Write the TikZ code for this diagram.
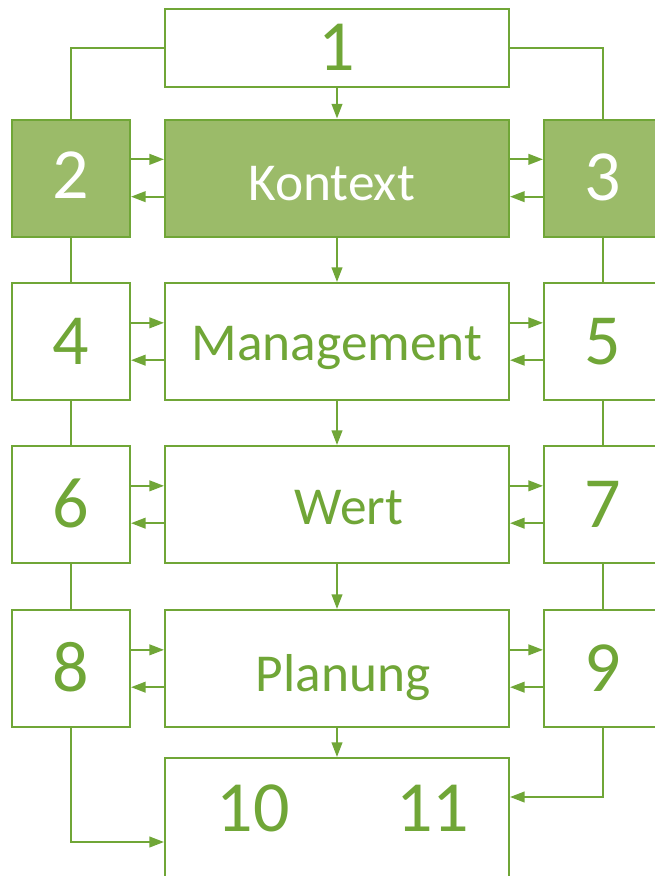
\documentclass[tikz,border=0pt]{standalone}
\usepackage{fontspec}
\setmainfont{Carlito}
\usepackage{xcolor}
\usepackage{tikz}
\usetikzlibrary{arrows.meta, positioning}

\definecolor{leafgreen}{HTML}{70A637}
\definecolor{leaffill}{HTML}{9BBB69}

\begin{document}
\begin{tikzpicture}[
    x=0.75pt, y=-0.75pt,
    % Boxes
    box/.style={rectangle, draw=leafgreen, line width=1.5pt, fill=white, text=leafgreen, inner sep=0pt},
    numbox/.style={box, minimum width=88.5pt, minimum height=87.75pt, font=\fontsize{54}{54}\selectfont, text height=34pt, text depth=0pt},
    mainbox/.style={box, minimum width=258pt, minimum height=87.75pt, font=\fontsize{40}{40}\selectfont, text height=30pt, text depth=0pt},
    active/.style={fill=leaffill, text=white},
    % Connectors
    link/.style={draw=leafgreen, line width=1.5pt},
    flow/.style={link, -{Triangle[length=11pt, width=8pt]}}
]
    \useasboundingbox (0,0) rectangle (655,876);

    % Top box
    \node[mainbox, minimum height=58.5pt, font=\fontsize{54}{54}\selectfont, text height=34pt] (one) at (337,48) {1};

    % Kontext row
    \node[numbox, active, text depth=4pt] (two) at (71,178) {2};
    \node[mainbox, active, text height=34pt] (kontext) at (337,178) {\hspace*{-8pt}Kontext};
    \node[numbox, active] (three) at (603,178) {3};

    % Management row
    \node[numbox] (four) at (71,341.5) {4};
    \node[mainbox, text height=29pt] (management) at (337,341.5) {Management};
    \node[numbox] (five) at (603,341.5) {5};

    % Wert row
    \node[numbox] (six) at (71,504.5) {6};
    \node[mainbox] (wert) at (337,504.5) {\hspace*{18pt}Wert};
    \node[numbox] (seven) at (603,504.5) {7};

    % Planung row
    \node[numbox] (eight) at (71,668.5) {8};
    \node[mainbox, text height=34pt] (planung) at (337,668.5) {\hspace*{9pt}Planung};
    \node[numbox] (nine) at (603,668.5) {9};

    % Bottom box
    \node[mainbox, minimum height=90pt, font=\fontsize{54}{54}\selectfont, text height=34pt, text depth=14pt] (final) at (337,818) {\hspace*{9pt}10\hspace{80pt}11};

    % Top links
    \draw[link] (one.west) -| (two.north);
    \draw[link] (one.east) -| (three.north);

    % Main column
    \draw[flow] (one) -- (kontext);
    \draw[flow] (kontext) -- (management);
    \draw[flow] (management) -- (wert);
    \draw[flow] (wert) -- (planung);
    \draw[flow] (planung) -- (final);

    % Side columns
    \draw[link] (two) -- (four);
    \draw[link] (four) -- (six);
    \draw[link] (six) -- (eight);
    \draw[link] (three) -- (five);
    \draw[link] (five) -- (seven);
    \draw[link] (seven) -- (nine);

    % Left exchange
    \draw[flow] ([yshift=14pt]two.east) -- ([yshift=14pt]kontext.west);
    \draw[flow] ([yshift=-14pt]kontext.west) -- ([yshift=-14pt]two.east);
    \draw[flow] ([yshift=14pt]four.east) -- ([yshift=14pt]management.west);
    \draw[flow] ([yshift=-14pt]management.west) -- ([yshift=-14pt]four.east);
    \draw[flow] ([yshift=14pt]six.east) -- ([yshift=14pt]wert.west);
    \draw[flow] ([yshift=-14pt]wert.west) -- ([yshift=-14pt]six.east);
    \draw[flow] ([yshift=14pt]eight.east) -- ([yshift=14pt]planung.west);
    \draw[flow] ([yshift=-14pt]planung.west) -- ([yshift=-14pt]eight.east);

    % Right exchange
    \draw[flow] ([yshift=14pt]kontext.east) -- ([yshift=14pt]three.west);
    \draw[flow] ([yshift=-14pt]three.west) -- ([yshift=-14pt]kontext.east);
    \draw[flow] ([yshift=14pt]management.east) -- ([yshift=14pt]five.west);
    \draw[flow] ([yshift=-14pt]five.west) -- ([yshift=-14pt]management.east);
    \draw[flow] ([yshift=14pt]wert.east) -- ([yshift=14pt]seven.west);
    \draw[flow] ([yshift=-14pt]seven.west) -- ([yshift=-14pt]wert.east);
    \draw[flow] ([yshift=14pt]planung.east) -- ([yshift=14pt]nine.west);
    \draw[flow] ([yshift=-14pt]nine.west) -- ([yshift=-14pt]planung.east);

    % Bottom links
    \draw[flow] (eight.south) |- ([yshift=-18pt]final.west);
    \draw[flow] (nine.south) |- ([yshift=15.75pt]final.east);
\end{tikzpicture}
\end{document}
